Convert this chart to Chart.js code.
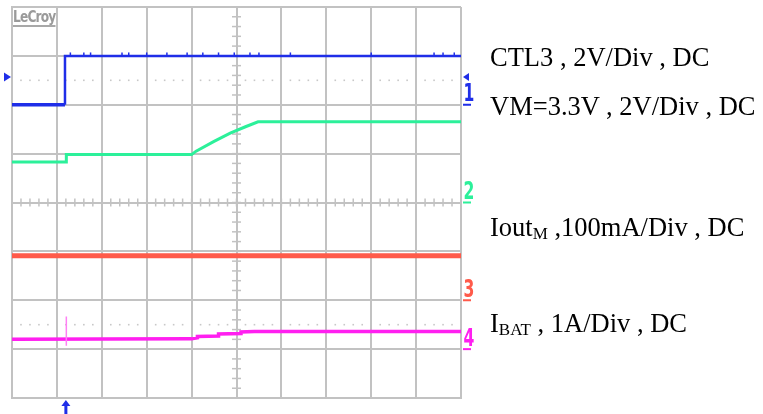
<!DOCTYPE html>
<html>
<head>
<meta charset="utf-8">
<script src="https://cdn.jsdelivr.net/npm/chart.js@4.4.1/dist/chart.umd.min.js"></script>
<style>
  html, body { margin: 0; padding: 0; background: #fff; }
  #wrap { position: absolute; left: 0; top: 0; width: 763px; height: 414px; }
  .note { position: absolute; left: 490px; font: 26.5px "Liberation Serif", "Times New Roman", serif;
          line-height: 26px; color: #000; white-space: nowrap; }
  .note sub { font-size: 17px; vertical-align: -3px; line-height: 0; }
  #logo { position: absolute; left: 13px; top: 9px; font: bold 16px "DejaVu Sans Condensed", "DejaVu Sans", sans-serif;
          color: #9a9a9a; letter-spacing: -1px; border-bottom: 2px solid #a8a8a8; line-height: 16px; transform: scaleX(0.85); transform-origin: left top; }
</style>
</head>
<body>
<div id="wrap"><canvas id="scope"></canvas></div>
<div id="logo">LeCroy</div>
<div class="note" style="top:44px">CTL3 , 2V/Div , DC</div>
<div class="note" style="top:93px">VM=3.3V , 2V/Div , DC</div>
<div class="note" style="top:214px">Iout<sub>M</sub> ,100mA/Div , DC</div>
<div class="note" style="top:310px">I<sub>BAT</sub> , 1A/Div , DC</div>
<script>
// screen is 10 x 8 divisions, values are in divisions from the bottom-left corner
const ch1X = [0, 1.18, 1.18, 10];
const ch1Y = [6.0, 6.0, 7.0, 7.0];
const ch1GlitchX = [1.3, 1.6, 1.75, 2.45, 2.6, 3.0, 3.45, 3.9, 4.25, 4.6, 4.95, 5.3, 5.5, 6.2, 8.0, 9.4, 9.6, 9.85];

const ch2X = [0, 1.21, 1.21, 4.0, 4.1, 4.5, 4.86, 5.2, 5.48, 10];
const ch2Y = [4.83, 4.83, 4.98, 4.98, 5.05, 5.25, 5.42, 5.55, 5.65, 5.65];

const ch3X = [0, 10];
const ch3Y = [2.91, 2.91];

const ch4X = [0, 4.0, 4.13, 4.13, 4.6, 4.6, 5.1, 5.1, 5.4, 10];
const ch4Y = [1.2, 1.21, 1.23, 1.26, 1.27, 1.31, 1.32, 1.35, 1.36, 1.36];
const ch4SpikeX = [1.21, 1.21];
const ch4SpikeY = [1.67, 1.07];

const chanLabels = ['1', '2', '3', '4'];
const chanLevels = [6, 4, 2, 1];
const chanColors = ['#1f2ee8', '#2cf09a', '#ff5a4a', '#ff1ff0'];
const refDotLevels = [6.5, 1.5];
const ch1Marker = 6.57;
const triggerX = 1.2;

const pts = (xs, ys) => xs.map((x, i) => ({ x, y: ys[i] }));

const gridColor = '#c2c2c2';

const scopeDecor = {
  id: 'scopeDecor',
  beforeDatasetsDraw(chart) {
    const { ctx, scales: { x, y } } = chart;
    ctx.save();
    // minor ticks on the centre cross
    ctx.strokeStyle = gridColor;
    ctx.lineWidth = 1.5;
    const cx = x.getPixelForValue(5), cy = y.getPixelForValue(4);
    for (let v = 0; v <= 8.001; v += 0.2) {
      const py = y.getPixelForValue(v);
      ctx.beginPath(); ctx.moveTo(cx - 4.5, py); ctx.lineTo(cx + 4.5, py); ctx.stroke();
    }
    for (let v = 0; v <= 10.001; v += 0.2) {
      const px = x.getPixelForValue(v);
      ctx.beginPath(); ctx.moveTo(px, cy - 4); ctx.lineTo(px, cy + 4); ctx.stroke();
    }
    // dotted reference rows
    ctx.fillStyle = '#c8c8c8';
    refDotLevels.forEach(lv => {
      const py = y.getPixelForValue(lv);
      for (let v = 0.2; v < 10; v += 0.2) {
        if (Math.abs(v - Math.round(v)) < 0.01) continue;
        ctx.fillRect(x.getPixelForValue(v) - 0.8, py - 0.8, 1.6, 1.6);
      }
    });
    ctx.restore();
  },
  afterDraw(chart) {
    const { ctx, scales: { x, y } } = chart;
    const right = x.getPixelForValue(10);
    ctx.save();
    chanLabels.forEach((lab, i) => {
      const py = y.getPixelForValue(chanLevels[i]);
      ctx.fillStyle = chanColors[i];
      ctx.fillRect(right + 2, py - 1, 8, 2);
      ctx.save();
      ctx.translate(right + 2.5, py - 3.5);
      ctx.scale(0.65, 1);
      ctx.font = 'bold 24px "DejaVu Sans"';
      ctx.textBaseline = 'alphabetic';
      ctx.fillText(lab, 0, 0);
      ctx.restore();
    });
    // ch1 offset markers
    const my = y.getPixelForValue(ch1Marker);
    const left = x.getPixelForValue(0);
    ctx.fillStyle = chanColors[0];
    ctx.beginPath(); ctx.moveTo(left - 8, my - 4.5); ctx.lineTo(left - 1, my); ctx.lineTo(left - 8, my + 4.5); ctx.fill();
    ctx.beginPath(); ctx.moveTo(right + 8, my - 4); ctx.lineTo(right + 2, my); ctx.lineTo(right + 8, my + 4); ctx.fill();
    // trigger position arrow
    const tx = x.getPixelForValue(triggerX), bottom = y.getPixelForValue(0);
    ctx.beginPath(); ctx.moveTo(tx, bottom + 2); ctx.lineTo(tx + 4.5, bottom + 8); ctx.lineTo(tx - 4.5, bottom + 8); ctx.fill();
    ctx.fillRect(tx - 1.5, bottom + 7, 3, 9);
    ctx.restore();
  }
};

const line = (data, color, width) => ({
  data, borderColor: color, borderWidth: width, pointRadius: 0, tension: 0, fill: false
});

const glitches = ch1GlitchX.map(gx => [{ x: gx, y: 7.0 }, { x: gx, y: 7.07 }]);

const datasets = [
  line(pts(ch3X, ch3Y), chanColors[2], 5),
  line(pts(ch2X, ch2Y), chanColors[1], 3),
  line(pts(ch4SpikeX, ch4SpikeY), '#ff80f4', 1.5),
  line(pts(ch4X, ch4Y), chanColors[3], 3.5),
  line(pts(ch1X.slice(0, 2), ch1Y.slice(0, 2)), chanColors[0], 3.5),
  line(pts(ch1X.slice(1), ch1Y.slice(1)), chanColors[0], 2.5),
  ...glitches.map(g => line(g, chanColors[0], 1.5))
];

new Chart(document.getElementById('scope'), {
  type: 'line',
  data: { datasets },
  options: {
    responsive: true,
    maintainAspectRatio: false,
    animation: false,
    layout: { padding: { left: 12, top: 7, right: 302, bottom: 16 } },
    plugins: { legend: { display: false }, tooltip: { enabled: false } },
    scales: {
      x: {
        type: 'linear', min: 0, max: 10,
        ticks: { display: false, stepSize: 1 },
        grid: { color: gridColor, lineWidth: 2, drawTicks: false },
        border: { color: gridColor, width: 2 }
      },
      y: {
        type: 'linear', min: 0, max: 8,
        ticks: { display: false, stepSize: 1 },
        grid: { color: gridColor, lineWidth: 2, drawTicks: false },
        border: { color: gridColor, width: 2 }
      }
    }
  },
  plugins: [scopeDecor]
});
</script>
</body>
</html>
